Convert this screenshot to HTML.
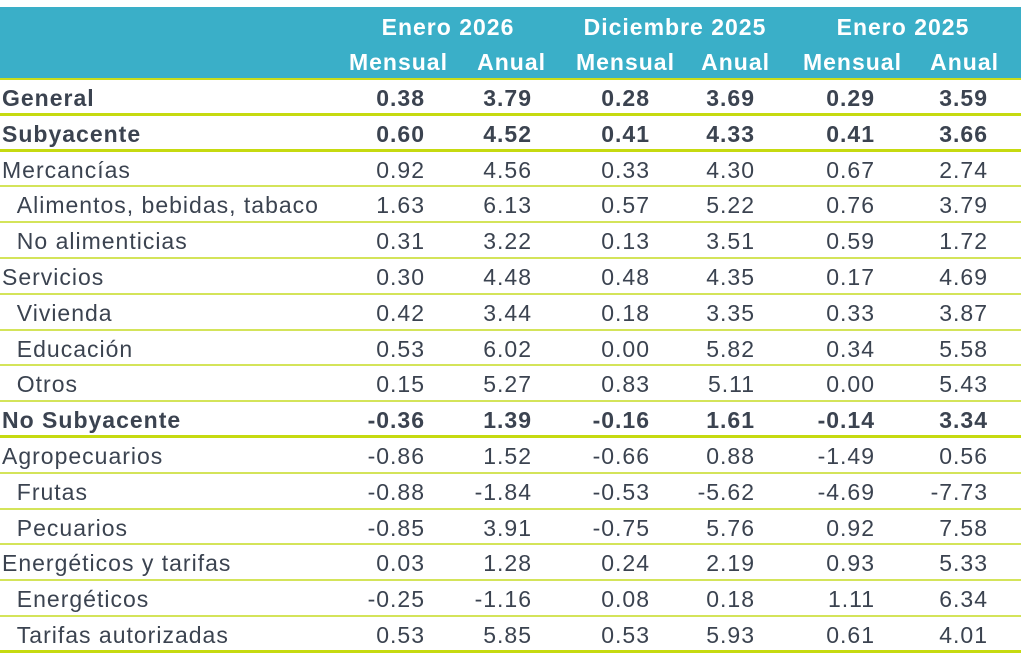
<!DOCTYPE html>
<html><head><style>
body{margin:0;width:1024px;height:668px;background:#fff;font-family:"Liberation Sans",sans-serif;color:#3b4350;overflow:hidden}
.hdr{position:absolute;left:0;top:7px;width:1021px;height:71px;background:#3aafc8;border-bottom:2px solid #c9dc1a}
.h{position:absolute;color:#fff;font-weight:bold;font-size:23px;letter-spacing:1px;white-space:nowrap}
.row{position:absolute;left:0;width:1021px;height:35.8px;border-bottom:2px solid #d4e45a;box-sizing:border-box}
.row.t{border-bottom:3px solid #c6da10}
.row span{position:absolute;top:5px;font-size:23px;letter-spacing:1px;white-space:nowrap}
.b span{font-weight:bold}
</style></head><body>
<div class="hdr"></div>
<div class="h" style="left:448px;top:14px;transform:translateX(-50%)">Enero 2026</div>
<div class="h" style="left:675px;top:14px;transform:translateX(-50%)">Diciembre 2025</div>
<div class="h" style="left:903px;top:14px;transform:translateX(-50%)">Enero 2025</div>
<div class="h" style="right:576px;top:49px">Mensual</div>
<div class="h" style="right:478px;top:49px">Anual</div>
<div class="h" style="right:349px;top:49px">Mensual</div>
<div class="h" style="right:254px;top:49px">Anual</div>
<div class="h" style="right:122px;top:49px">Mensual</div>
<div class="h" style="right:25px;top:49px">Anual</div>
<div id="rows"></div>
<script>
const d=[["General",1,1,"0.38","3.79","0.28","3.69","0.29","3.59"],
["Subyacente",1,1,"0.60","4.52","0.41","4.33","0.41","3.66"],
["Mercancías",0,0,"0.92","4.56","0.33","4.30","0.67","2.74"],
["&nbsp;&nbsp;Alimentos, bebidas, tabaco",0,0,"1.63","6.13","0.57","5.22","0.76","3.79"],
["&nbsp;&nbsp;No alimenticias",0,0,"0.31","3.22","0.13","3.51","0.59","1.72"],
["Servicios",0,0,"0.30","4.48","0.48","4.35","0.17","4.69"],
["&nbsp;&nbsp;Vivienda",0,0,"0.42","3.44","0.18","3.35","0.33","3.87"],
["&nbsp;&nbsp;Educación",0,0,"0.53","6.02","0.00","5.82","0.34","5.58"],
["&nbsp;&nbsp;Otros",0,0,"0.15","5.27","0.83","5.11","0.00","5.43"],
["No Subyacente",1,1,"-0.36","1.39","-0.16","1.61","-0.14","3.34"],
["Agropecuarios",0,0,"-0.86","1.52","-0.66","0.88","-1.49","0.56"],
["&nbsp;&nbsp;Frutas",0,0,"-0.88","-1.84","-0.53","-5.62","-4.69","-7.73"],
["&nbsp;&nbsp;Pecuarios",0,0,"-0.85","3.91","-0.75","5.76","0.92","7.58"],
["Energéticos y tarifas",0,0,"0.03","1.28","0.24","2.19","0.93","5.33"],
["&nbsp;&nbsp;Energéticos",0,0,"-0.25","-1.16","0.08","0.18","1.11","6.34"],
["&nbsp;&nbsp;Tarifas autorizadas",0,1,"0.53","5.85","0.53","5.93","0.61","4.01"]];
const rx=[596,489,371,266,146,33];
let h="";
d.forEach((r,i)=>{
 h+=`<div class="row${r[1]?' b':''}${r[2]?' t':''}" style="top:${80+i*35.8}px"><span style="left:2px">${r[0]}</span>`;
 for(let k=0;k<6;k++)h+=`<span style="right:${rx[k]}px">${r[3+k]}</span>`;
 h+="</div>";});
document.getElementById("rows").innerHTML=h;
</script>
</body></html>
